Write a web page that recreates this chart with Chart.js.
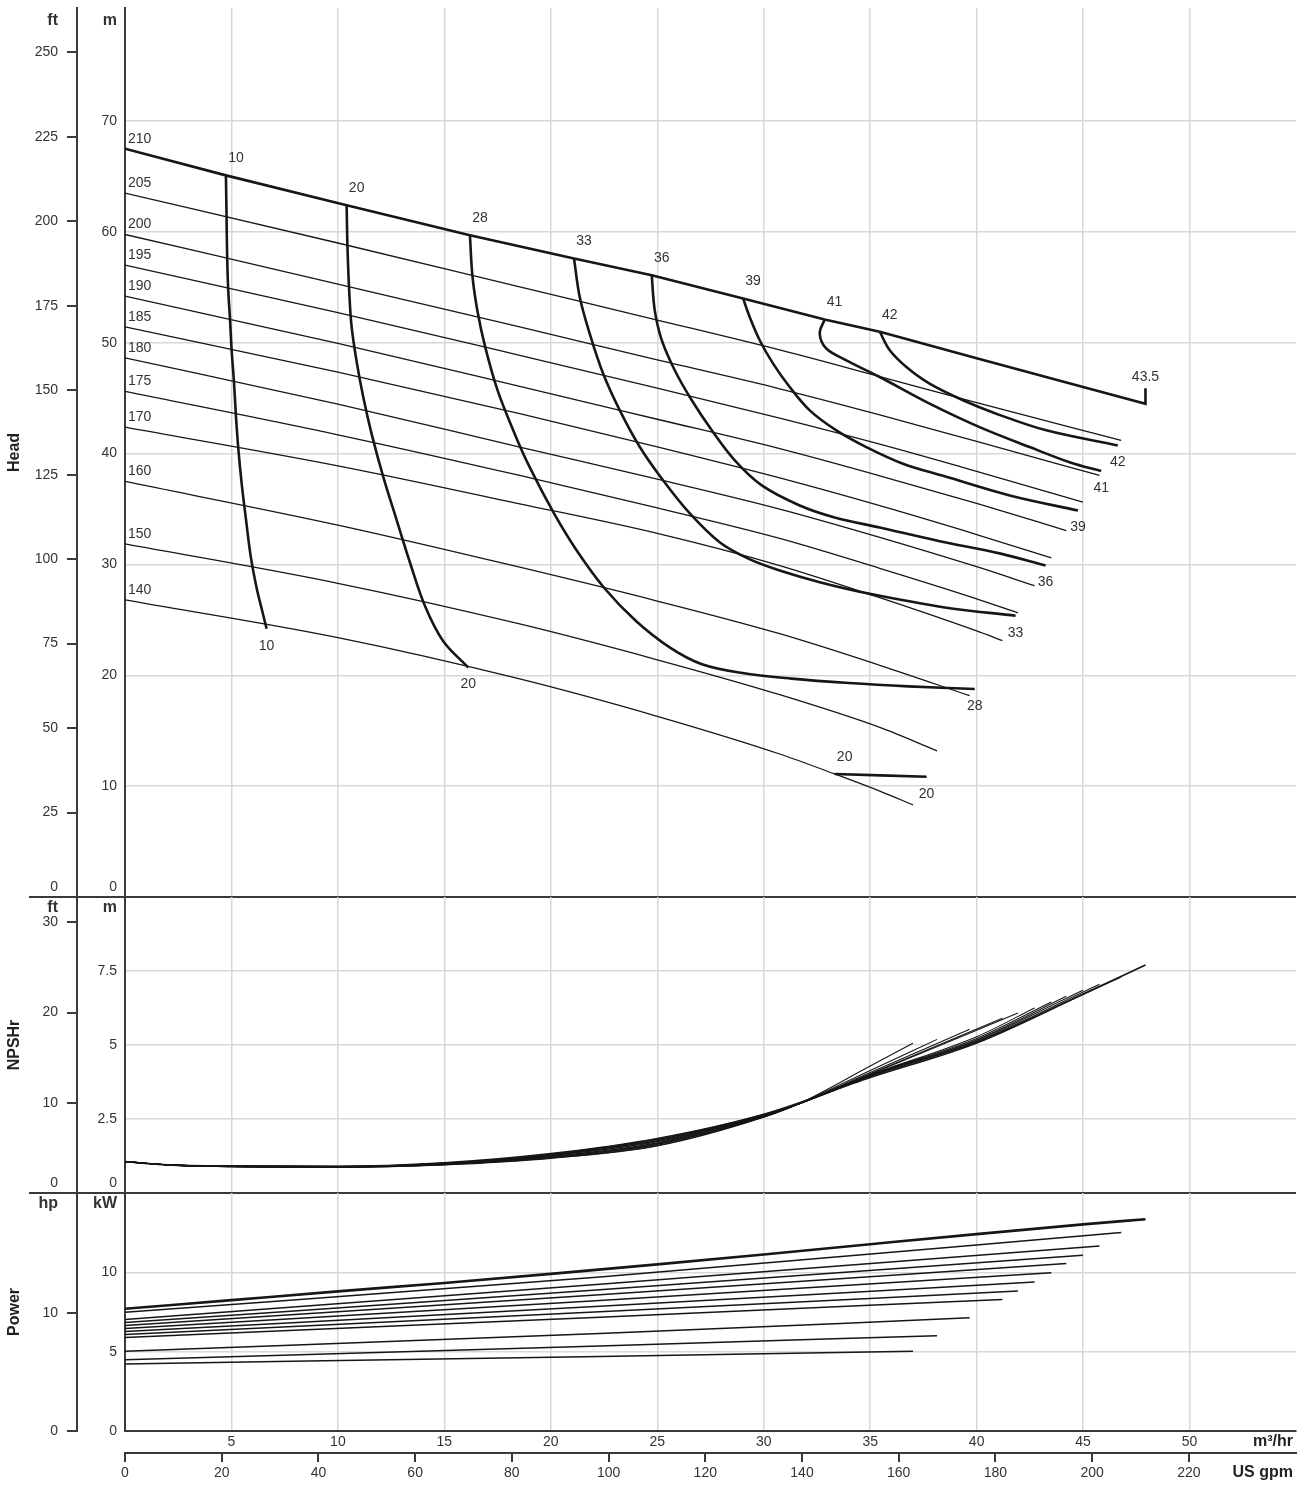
<!DOCTYPE html>
<html lang="en">
<head>
<meta charset="utf-8">
<title>Pump performance curves</title>
<script src="https://cdn.jsdelivr.net/npm/chart.js@4.4.1/dist/chart.umd.min.js"></script>
<style>
  html, body { margin:0; padding:0; background:#ffffff; }
  #stage { position:relative; width:1309px; height:1485px; overflow:hidden; background:#ffffff; }
  #stage canvas { position:absolute; left:0; top:0; }
</style>
</head>
<body>
<div id="stage">
  <canvas id="headChart" width="1309" height="1485"></canvas>
  <canvas id="npshChart" width="1309" height="1485"></canvas>
  <canvas id="powerChart" width="1309" height="1485"></canvas>
</div>
<script>
// ---------------- categories ----------------
const diameters = ['210','205','200','195','190','185','180','175','170','160','150','140'];
const effLabels = ['10','20','28','33','36','39','41','42','20'];
const maxEffLabel = '43.5';

// ---------------- tick labels ----------------
const flowTicks    = [5,10,15,20,25,30,35,40,45,50];            // m³/hr
const gpmTicks     = [0,20,40,60,80,100,120,140,160,180,200,220];
const headMTicks   = [0,10,20,30,40,50,60,70];
const headFtTicks  = [0,25,50,75,100,125,150,175,200,225,250];
const npshMTicks   = [0,2.5,5,7.5];
const npshFtTicks  = [0,10,20,30];
const powerKwTicks = [0,5,10];
const powerHpTicks = [0,10];

// ---------------- head curves per impeller diameter [Q m³/hr, H m] ----------------
const h210 = [[0,67.5],[4.74,65.1],[10.41,62.4],[16.2,59.7],[21.09,57.6],[24.74,56.1],[29.03,54.0],[32.86,52.1],[35.45,51.0],[40,48.6],[45,46.0],[47.93,44.5],[47.93,45.9]];
const h205 = [[0,63.5],[10,59.0],[18.54,55.04],[25,52.05],[30.75,49.35],[35.45,46.95],[40,44.6],[46.79,41.19]];
const h200 = [[0,59.77],[10,55.3],[18.54,51.43],[25,48.45],[30.75,45.85],[35.45,43.5],[40,41.1],[45.77,38.03]];
const h195 = [[0,57.0],[10,52.72],[18.54,48.87],[25,45.9],[30.75,43.2],[35.45,40.85],[40,38.4],[44.99,35.62]];
const h190 = [[0,54.2],[10,49.95],[18.54,46.07],[25,43.1],[30.75,40.45],[35.45,38.0],[40,35.5],[44.21,33.06]];
const h185 = [[0,51.43],[10,47.35],[18.54,43.6],[25,40.6],[30.75,37.8],[35.45,35.3],[40,32.7],[43.51,30.6]];
const h180 = [[0,48.63],[10,44.46],[18.54,40.59],[25,37.7],[30.75,35.0],[35.45,32.45],[40,29.8],[42.72,28.09]];
const h175 = [[0,45.62],[10,41.7],[18.54,38.03],[25,35.1],[30.75,32.35],[35.45,29.65],[40,26.9],[41.94,25.63]];
const h170 = [[0,42.39],[10,38.9],[18.54,35.47],[25,32.8],[30.75,29.9],[35.45,27.0],[40,24.0],[41.21,23.13]];
const h160 = [[0,37.49],[10,33.55],[18.54,29.75],[25,26.7],[30.75,23.75],[35.45,20.9],[39.67,18.16]];
const h150 = [[0,31.86],[10,28.3],[18.54,24.63],[25,21.4],[30.75,18.25],[35.45,15.3],[38.14,13.19]];
const h140 = [[0,26.8],[10,23.4],[18.54,19.67],[25,16.3],[30.75,12.9],[33.33,11.1],[35.45,9.55],[37.01,8.31]];

// ---------------- iso-efficiency curves (%) [Q m³/hr, H m] ----------------
const eff10  = [[4.74,65.1],[4.77,61.3],[4.80,57.6],[4.85,54.7],[4.93,52.2],[5.01,49.3],[5.12,46.4],[5.21,43.4],[5.32,40.5],[5.48,37.3],[5.68,34.1],[5.90,30.8],[6.18,27.9],[6.42,26.0],[6.65,24.2]];
const eff20  = [[10.41,62.4],[10.45,58.6],[10.53,54.7],[10.64,51.5],[10.88,48.3],[11.19,45.1],[11.58,41.8],[12.13,37.9],[12.76,34.0],[13.38,30.2],[14.08,26.3],[14.94,23.1],[16.12,20.7]];
const eff28  = [[16.2,59.7],[16.32,56.0],[16.56,52.8],[16.92,49.6],[17.5,45.7],[18.3,41.8],[19.0,38.8],[20.15,34.6],[21.2,31.3],[22.5,27.9],[24.0,24.9],[25.6,22.5],[27.1,21.0],[29.0,20.2],[31.3,19.7],[34.0,19.3],[36.8,19.0],[39.91,18.76]];
const eff33  = [[21.09,57.6],[21.36,54.1],[21.83,50.8],[22.46,47.2],[23.24,43.9],[24.18,40.6],[25.27,37.6],[26.53,34.6],[27.93,32.0],[29.3,30.5],[30.75,29.45],[32.63,28.4],[34.98,27.35],[38.58,26.1],[41.83,25.38]];
const eff36  = [[24.74,56.1],[24.88,52.94],[25.21,50.23],[25.82,47.52],[26.62,44.81],[27.56,42.1],[28.64,39.39],[29.91,37.13],[31.69,35.32],[33.33,34.24],[35.45,33.33],[38.26,32.1],[41.08,31.0],[43.24,29.9]];
const eff39  = [[29.03,54.0],[29.34,52.33],[29.81,50.23],[30.44,48.12],[31.22,46.01],[32.16,43.9],[33.41,42.1],[34.82,40.59],[36.54,39.09],[38.5,37.95],[41.6,36.2],[44.76,34.87]];
const eff41  = [[32.86,52.1],[32.63,50.83],[32.94,49.48],[33.88,48.42],[35.45,46.91],[37.79,44.51],[40.14,42.39],[42.49,40.59],[44.4,39.2],[45.85,38.42]];
const eff42  = [[35.45,51.0],[35.92,49.32],[36.7,47.81],[37.79,46.31],[39.36,44.81],[40.92,43.6],[43.27,42.1],[46.63,40.74]];
const eff20b = [[33.33,11.1],[37.65,10.85]];

// ---------------- NPSHr per diameter [Q m³/hr, NPSHr m] ----------------
const n210 = [[0,1.06],[2,0.95],[5,0.91],[10,0.90],[15,1.02],[20,1.33],[25,1.84],[30,2.66],[35,3.90],[40,5.07],[45,6.72],[47.93,7.70]];
const n205 = [[0,1.06],[2,0.95],[5,0.91],[10,0.90],[15,1.01],[20,1.32],[25,1.82],[30,2.65],[31.6,3.0],[35,3.93],[40,5.10],[46.79,7.30]];
const n200 = [[0,1.06],[2,0.95],[5,0.91],[10,0.89],[15,1.01],[20,1.30],[25,1.80],[30,2.64],[31.6,3.0],[35,3.95],[40,5.12],[45.77,7.05]];
const n195 = [[0,1.06],[2,0.95],[5,0.90],[10,0.89],[15,1.00],[20,1.29],[25,1.77],[30,2.63],[31.6,3.0],[35,3.96],[40,5.15],[44.99,6.85]];
const n190 = [[0,1.06],[2,0.95],[5,0.90],[10,0.89],[15,0.99],[20,1.27],[25,1.75],[30,2.62],[31.6,3.0],[35,3.97],[40,5.18],[44.21,6.65]];
const n185 = [[0,1.06],[2,0.95],[5,0.90],[10,0.89],[15,0.99],[20,1.26],[25,1.73],[30,2.62],[31.6,3.0],[35,3.98],[40,5.22],[43.51,6.45]];
const n180 = [[0,1.06],[2,0.95],[5,0.90],[10,0.88],[15,0.98],[20,1.24],[25,1.70],[30,2.61],[31.6,3.0],[35,3.99],[40,5.28],[42.72,6.25]];
const n175 = [[0,1.06],[2,0.95],[5,0.90],[10,0.88],[15,0.98],[20,1.23],[25,1.68],[30,2.60],[31.6,3.0],[35,4.01],[41.94,6.08]];
const n170 = [[0,1.06],[2,0.95],[5,0.90],[10,0.88],[15,0.97],[20,1.21],[25,1.66],[30,2.59],[31.6,3.0],[35,4.03],[41.21,5.90]];
const n160 = [[0,1.06],[2,0.95],[5,0.89],[10,0.88],[15,0.96],[20,1.20],[25,1.64],[30,2.58],[31.6,3.0],[35,4.07],[39.67,5.53]];
const n150 = [[0,1.06],[2,0.95],[5,0.89],[10,0.87],[15,0.96],[20,1.18],[25,1.61],[30,2.57],[31.6,3.0],[35,4.14],[38.14,5.19]];
const n140 = [[0,1.06],[2,0.95],[5,0.89],[10,0.87],[15,0.95],[20,1.17],[25,1.59],[30,2.56],[31.6,3.0],[35,4.29],[37.01,5.06]];

// ---------------- shaft power per diameter [Q m³/hr, P kW] ----------------
const p210 = [[0,7.7],[5,8.25],[10,8.8],[15,9.33],[20,9.9],[25,10.5],[30,11.12],[35,11.77],[40,12.41],[45,13.02],[47.93,13.35]];
const p205 = [[0,7.49],[22.3,9.7],[46.79,12.51]];
const p200 = [[0,7.03],[22.3,9.25],[45.77,11.66]];
const p195 = [[0,6.84],[22.3,8.9],[44.99,11.08]];
const p190 = [[0,6.65],[22.3,8.58],[44.21,10.55]];
const p185 = [[0,6.46],[22.3,8.22],[43.51,9.98]];
const p180 = [[0,6.27],[22.3,7.86],[42.72,9.39]];
const p175 = [[0,6.08],[22.3,7.52],[41.94,8.82]];
const p170 = [[0,5.89],[22.3,7.17],[41.21,8.29]];
const p160 = [[0,5.02],[22.3,6.14],[39.67,7.13]];
const p150 = [[0,4.49],[22.3,5.36],[38.14,6.01]];
const p140 = [[0,4.22],[22.3,4.70],[37.01,5.02]];

const headSeries  = [h210,h205,h200,h195,h190,h185,h180,h175,h170,h160,h150,h140];
const effSeries   = [eff10,eff20,eff28,eff33,eff36,eff39,eff41,eff42,eff20b];
const npshSeries  = [n210,n205,n200,n195,n190,n185,n180,n175,n170,n160,n150,n140];
const powerSeries = [p210,p205,p200,p195,p190,p185,p180,p175,p170,p160,p150,p140];

// ---------------- styling / layout ----------------
const FONT = "'Liberation Sans', Arial, Helvetica, sans-serif";
const LINE = '#161616', TXT = '#333333', GRID = '#d8d8d8', AXIS = '#3a3a3a';
const CANVAS_H = 1485;
const FT_AXIS_W = 77, M_AXIS_W = 48, RIGHT_PAD = 13;
const Q_MAX = 55;
const M_PER_FT = 0.3048, KW_PER_HP = 0.7457, GPM_PER_M3H = 4.402868;
const HEAD_MAX = 80.2, NPSH_MAX = 10, POWER_MAX = 15;
const PANEL_TOP = 8, HEAD_BOTTOM = 897, NPSH_BOTTOM = 1193, POWER_BOTTOM = 1431;
const X1_H = 22, X2_H = 30;

Chart.defaults.font.family = FONT;
Chart.defaults.font.size = 14;
Chart.defaults.color = TXT;
Chart.defaults.animation = false;
Chart.defaults.events = [];
Chart.defaults.plugins.legend.display = false;
Chart.defaults.plugins.tooltip.enabled = false;

const pts = a => a.map(p => ({ x: p[0], y: p[1] }));

function fixBox(w, h) {
  return function (s) {
    if (w !== null) s.width = w;
    if (h !== null) s.height = h;
    s.paddingTop = 0; s.paddingBottom = 0; s.paddingLeft = 0; s.paddingRight = 0;
  };
}
function fixedTicks(vals) {
  return function (s) { s.ticks = vals.map(v => ({ value: v })); };
}

function xGridOnly() {
  return {
    type: 'linear', position: 'bottom', weight: 0, min: 0, max: Q_MAX, bounds: 'data',
    afterBuildTicks: fixedTicks(flowTicks),
    ticks: { display: false },
    border: { display: false },
    grid: { color: GRID, lineWidth: 1.5, drawTicks: false },
    afterFit: fixBox(null, 0)
  };
}

function leftAxes(mMax, mTicks, altMax, altTicks, title, keepZero) {
  const mt = keepZero ? mTicks : mTicks.filter(v => v !== 0);
  const at = keepZero ? altTicks : altTicks.filter(v => v !== 0);
  return {
    y: {
      type: 'linear', position: 'left', weight: 0, min: 0, max: mMax, bounds: 'data',
      afterBuildTicks: fixedTicks(mt),
      ticks: { padding: 8, autoSkip: false, color: TXT, font: { size: 14 } },
      grid: { color: GRID, lineWidth: 1.5, drawTicks: false },
      border: { color: AXIS, width: 2 },
      afterFit: fixBox(M_AXIS_W, null)
    },
    yft: {
      type: 'linear', axis: 'y', position: 'left', weight: 1, min: 0, max: altMax, bounds: 'data',
      afterBuildTicks: fixedTicks(at),
      ticks: { padding: 9, autoSkip: false, color: TXT, font: { size: 14 } },
      grid: { drawOnChartArea: false, drawTicks: true, tickLength: 10, color: AXIS, tickColor: AXIS, lineWidth: 2 },
      border: { color: AXIS, width: 2 },
      title: { display: true, text: title, color: '#222', font: { size: 16, weight: 'bold' }, padding: { top: 5, bottom: 0 } },
      afterFit: fixBox(FT_AXIS_W, null)
    }
  };
}

// decorations: unit captions, shifted zero labels, panel separators, flow units
const decoPlugin = {
  id: 'deco',
  afterDraw(chart, args, o) {
    const ctx = chart.ctx, ca = chart.chartArea;
    const ym = chart.scales.y, ya = chart.scales.yft;
    const xm = ym.right - 8, xa = ya.right - 19;
    ctx.save();
    ctx.fillStyle = TXT;
    ctx.textAlign = 'right';
    ctx.textBaseline = 'middle';
    ctx.font = 'bold 16px ' + FONT;
    ctx.fillText(o.units[0], xa, ca.top + o.unitDy);
    ctx.fillText(o.units[1], xm, ca.top + o.unitDy);
    if (o.zeroText) {
      ctx.font = '14px ' + FONT;
      ctx.fillText(o.zeroText[0], xa, ca.bottom - 10);
      ctx.fillText(o.zeroText[1], xm, ca.bottom - 10);
    }
    if (o.separator) {
      ctx.strokeStyle = AXIS;
      ctx.lineWidth = 2;
      ctx.beginPath();
      ctx.moveTo(29, ca.bottom);
      ctx.lineTo(ca.right, ca.bottom);
      ctx.stroke();
    }
    if (o.flowUnits) {
      const x1 = chart.scales.x, x2 = chart.scales.x2;
      ctx.font = 'bold 16px ' + FONT;
      ctx.fillStyle = '#222';
      ctx.fillText('m³/hr', ca.right - 3, x1.top + 11);
      ctx.fillText('US gpm', ca.right - 3, x2.top + 20);
    }
    ctx.restore();
  }
};

// curve labels anchored on data points through the scales
const labelPlugin = {
  id: 'curveLabels',
  afterDatasetsDraw(chart, args, o) {
    const ctx = chart.ctx, xs = chart.scales.x, ys = chart.scales.y;
    ctx.save();
    ctx.font = '14px ' + FONT;
    ctx.fillStyle = TXT;
    ctx.textBaseline = 'middle';
    (o.items || []).forEach(it => {
      ctx.textAlign = it.align || 'center';
      ctx.fillText(it.text, xs.getPixelForValue(it.x) + it.dx, ys.getPixelForValue(it.y) + it.dy);
    });
    ctx.restore();
  }
};

// ---------------- HEAD chart ----------------
const headDatasets = [];
headSeries.forEach((s, i) => {
  headDatasets.push({
    label: 'D' + diameters[i], data: pts(s), showLine: true, pointRadius: 0,
    borderColor: LINE, borderWidth: i === 0 ? 2.6 : 1.3,
    tension: 0, cubicInterpolationMode: i === 0 ? 'default' : 'monotone'
  });
});
effSeries.forEach((s, i) => {
  headDatasets.push({
    label: 'eff ' + effLabels[i], data: pts(s), showLine: true, pointRadius: 0,
    borderColor: LINE, borderWidth: 2.6, tension: 0.35
  });
});

const headLabelItems = [];
headSeries.forEach((s, i) => headLabelItems.push({ text: diameters[i], x: s[0][0], y: s[0][1], dx: 3, dy: -10, align: 'left' }));
effSeries.forEach((s, i) => {
  const a = s[0], b = s[s.length - 1];
  headLabelItems.push({ text: effLabels[i], x: a[0], y: a[1], dx: 10, dy: -17 });
  headLabelItems.push({ text: effLabels[i], x: b[0], y: b[1], dx: 0, dy: 17 });
});
headLabelItems.push({ text: maxEffLabel, x: h210[h210.length - 1][0], y: h210[h210.length - 1][1], dx: 0, dy: -11 });

new Chart(document.getElementById('headChart'), {
  type: 'scatter',
  data: { datasets: headDatasets },
  plugins: [decoPlugin, labelPlugin],
  options: {
    responsive: false,
    layout: { autoPadding: false, padding: { top: PANEL_TOP, bottom: CANVAS_H - HEAD_BOTTOM, left: 0, right: RIGHT_PAD } },
    scales: Object.assign({ x: xGridOnly() }, leftAxes(HEAD_MAX, headMTicks, HEAD_MAX / M_PER_FT, headFtTicks, 'Head', false)),
    plugins: {
      deco: { units: ['ft', 'm'], unitDy: 13, zeroText: [String(headFtTicks[0]), String(headMTicks[0])], separator: true },
      curveLabels: { items: headLabelItems }
    }
  }
});

// ---------------- NPSHr chart ----------------
const npshDatasets = npshSeries.map((s, i) => ({
  label: 'NPSH ' + diameters[i], data: pts(s), showLine: true, pointRadius: 0,
  borderColor: LINE, borderWidth: i === 0 ? 1.7 : 1.1, cubicInterpolationMode: 'monotone', tension: 0.4
}));

new Chart(document.getElementById('npshChart'), {
  type: 'scatter',
  data: { datasets: npshDatasets },
  plugins: [decoPlugin],
  options: {
    responsive: false,
    layout: { autoPadding: false, padding: { top: HEAD_BOTTOM, bottom: CANVAS_H - NPSH_BOTTOM, left: 0, right: RIGHT_PAD } },
    scales: Object.assign({ x: xGridOnly() }, leftAxes(NPSH_MAX, npshMTicks, NPSH_MAX / M_PER_FT, npshFtTicks, 'NPSHr', false)),
    plugins: {
      deco: { units: ['ft', 'm'], unitDy: 11, zeroText: [String(npshFtTicks[0]), String(npshMTicks[0])], separator: true }
    }
  }
});

// ---------------- POWER chart ----------------
const powerDatasets = powerSeries.map((s, i) => ({
  label: 'P ' + diameters[i], data: pts(s), showLine: true, pointRadius: 0,
  borderColor: LINE, borderWidth: i === 0 ? 2.6 : 1.5, cubicInterpolationMode: 'monotone', tension: 0.4
}));

const powerScales = Object.assign({
  x: {
    type: 'linear', position: 'bottom', weight: 0, min: 0, max: Q_MAX, bounds: 'data',
    afterBuildTicks: fixedTicks(flowTicks),
    ticks: { padding: 3, autoSkip: false, maxRotation: 0, color: TXT, font: { size: 14 } },
    border: { display: true, color: AXIS, width: 2 },
    grid: { color: GRID, lineWidth: 1.5, drawTicks: false },
    afterFit: fixBox(null, X1_H)
  },
  x2: {
    type: 'linear', axis: 'x', position: 'bottom', weight: 1, min: 0, max: Q_MAX * GPM_PER_M3H, bounds: 'data',
    afterBuildTicks: fixedTicks(gpmTicks),
    ticks: { padding: 3, autoSkip: false, maxRotation: 0, color: TXT, font: { size: 14 } },
    border: { display: true, color: AXIS, width: 2 },
    grid: { drawOnChartArea: false, drawTicks: true, tickLength: 9, color: AXIS, tickColor: AXIS, lineWidth: 2 },
    afterFit: fixBox(null, X2_H)
  }
}, leftAxes(POWER_MAX, powerKwTicks, POWER_MAX / KW_PER_HP, powerHpTicks, 'Power', true));

new Chart(document.getElementById('powerChart'), {
  type: 'scatter',
  data: { datasets: powerDatasets },
  plugins: [decoPlugin],
  options: {
    responsive: false,
    layout: { autoPadding: false, padding: { top: NPSH_BOTTOM, bottom: CANVAS_H - POWER_BOTTOM - X1_H - X2_H, left: 0, right: RIGHT_PAD } },
    scales: powerScales,
    plugins: {
      deco: { units: ['hp', 'kW'], unitDy: 11, flowUnits: true }
    }
  }
});
</script>
</body>
</html>
